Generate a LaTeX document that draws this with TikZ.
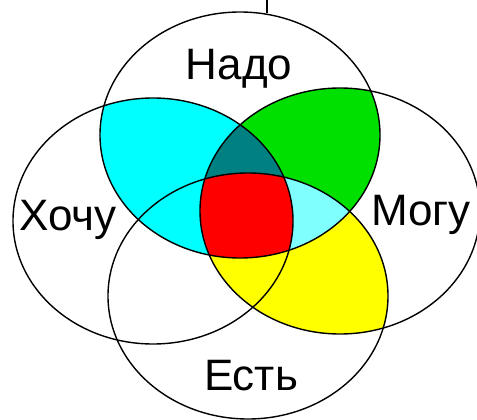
\documentclass[tikz,border=0pt]{standalone}
\usepackage{fontspec}
\setmainfont{Liberation Sans}
\definecolor{both}{HTML}{00FFFF}
\definecolor{must}{HTML}{00E000}
\definecolor{have}{HTML}{FFFF00}
\definecolor{deep}{HTML}{008080}
\definecolor{pale}{HTML}{80FFFF}
\definecolor{core}{HTML}{FF0000}
\tikzset{
  vennsize/.style={x radius=140pt,y radius=123pt},
  outline/.style={draw=black,line width=1.4pt},
  setname/.style={font=\fontsize{44}{44}\selectfont,anchor=base,inner sep=0pt}
}

\begin{document}
\begin{tikzpicture}[x=1pt,y=-1pt]
  \useasboundingbox (0,0) rectangle (477,420);
  \coordinate (nado) at (240,135);
  \coordinate (hochu) at (153,221);
  \coordinate (mogu) at (340,211);
  \coordinate (est) at (248,296);

  % coloured overlaps
  \begin{scope}
    \clip (nado) ellipse [vennsize]; \clip (hochu) ellipse [vennsize];
    \fill[both] (0,0) rectangle (477,420);
  \end{scope}
  \begin{scope}
    \clip (nado) ellipse [vennsize]; \clip (mogu) ellipse [vennsize];
    \fill[must] (0,0) rectangle (477,420);
  \end{scope}
  \begin{scope}
    \clip (mogu) ellipse [vennsize]; \clip (est) ellipse [vennsize];
    \fill[have] (0,0) rectangle (477,420);
  \end{scope}
  \begin{scope}
    \clip (nado) ellipse [vennsize]; \clip (hochu) ellipse [vennsize]; \clip (mogu) ellipse [vennsize];
    \fill[deep] (0,0) rectangle (477,420);
  \end{scope}
  \begin{scope}
    \clip (nado) ellipse [vennsize]; \clip (mogu) ellipse [vennsize]; \clip (est) ellipse [vennsize];
    \fill[pale] (0,0) rectangle (477,420);
  \end{scope}
  \begin{scope}
    \clip (nado) ellipse [vennsize]; \clip (hochu) ellipse [vennsize];
    \clip (mogu) ellipse [vennsize]; \clip (est) ellipse [vennsize];
    \fill[core] (0,0) rectangle (477,420);
  \end{scope}

  \draw[outline] (nado) ellipse [vennsize];
  \draw[outline] (hochu) ellipse [vennsize];
  \draw[outline] (mogu) ellipse [vennsize];
  \draw[outline] (est) ellipse [vennsize];
  \coordinate (tick) at (267,0);
  \draw[outline] (tick) -- ++(0,13);

  \node[setname] (lnado) at (239,80) {Надо};
  \node[setname] (lhochu) at (68,230) {Хочу};
  \node[setname] (lmogu) at (421,225) {Могу};
  \node[setname] (lest) at (251,390) {Есть};
\end{tikzpicture}
\end{document}
